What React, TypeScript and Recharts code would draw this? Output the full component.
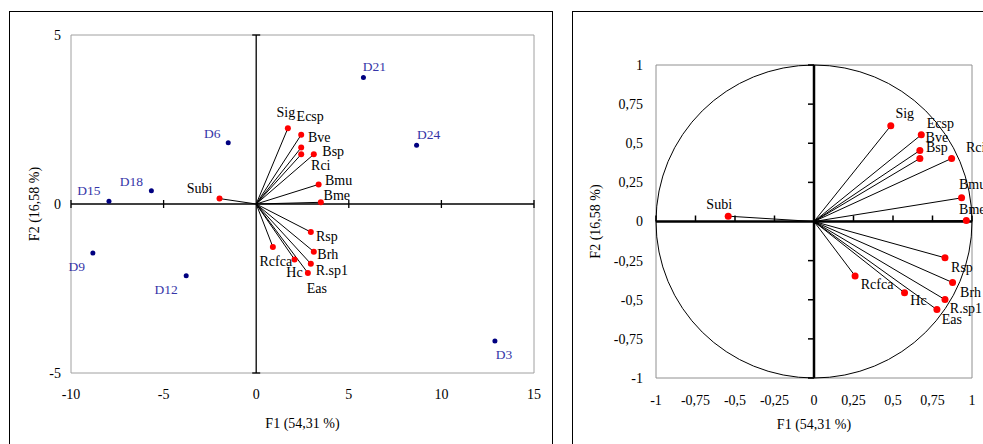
import { ScatterChart, Scatter, XAxis, YAxis, ReferenceLine, ReferenceArea, ReferenceDot } from 'recharts'

// variables (red) — coordinates on the biplot and on the correlation circle
const varNames = ['Sig', 'Ecsp', 'Bve', 'Bsp', 'Rci', 'Bmu', 'Bme', 'Subi', 'Rsp', 'Brh', 'R.sp1', 'Eas', 'Hc', 'Rcfca']
const varF1Biplot = [1.71, 2.43, 2.43, 2.43, 3.11, 3.37, 3.49, -1.98, 2.95, 3.11, 2.95, 2.79, 2.07, 0.9]
const varF2Biplot = [2.24, 2.05, 1.67, 1.47, 1.47, 0.58, 0.05, 0.16, -0.83, -1.41, -1.77, -2.04, -1.64, -1.27]
const varF1Circle = [0.486, 0.679, 0.67, 0.67, 0.871, 0.934, 0.964, -0.543, 0.829, 0.877, 0.829, 0.778, 0.573, 0.26]
const varF2Circle = [0.612, 0.554, 0.454, 0.403, 0.403, 0.151, 0.006, 0.034, -0.232, -0.39, -0.499, -0.563, -0.456, -0.348]

// sites (blue)
const siteNames = ['D21', 'D24', 'D6', 'D18', 'D15', 'D9', 'D12', 'D3']
const siteF1 = [5.79, 8.66, -1.51, -5.66, -7.95, -8.82, -3.78, 12.89]
const siteF2 = [3.74, 1.74, 1.81, 0.39, 0.08, -1.45, -2.12, -4.05]

// ticks
const biplotXTicks = [-10, -5, 0, 5, 10, 15]
const biplotYTicks = [-5, 0, 5]
const circleTicks = [-1, -0.75, -0.5, -0.25, 0, 0.25, 0.5, 0.75, 1]

const xTitle = 'F1 (54,31 %)'
const yTitle = 'F2 (16,58 %)'

// label offsets in px (label centre relative to its point)
const biplotVarOffset: Record<string, [number, number]> = {
  Sig: [-2, -16], Ecsp: [9, -18], Bve: [18, -10], Bsp: [32, -3], Rci: [7, 11], Bmu: [20, -4],
  Bme: [16, -7], Subi: [-20, -10], Rsp: [16, 4], Brh: [14, 3], 'R.sp1': [21, 7], Eas: [9, 16],
  Hc: [0, 13], Rcfca: [3, 15],
}
const siteOffset: Record<string, [number, number]> = {
  D21: [11, -11], D24: [12, -11], D6: [-16, -9], D18: [-20, -9], D15: [-20, -11],
  D9: [-16, 13], D12: [-20, 14], D3: [9, 14],
}
const circleVarOffset: Record<string, [number, number]> = {
  Sig: [14, -12], Ecsp: [19, -11], Bve: [17, -13], Bsp: [17, -11], Rci: [24, -11], Bmu: [11, -13],
  Bme: [6, -11], Subi: [-9, -12], Rsp: [17, 10], Brh: [18, 10], 'R.sp1': [21, 9], Eas: [15, 10],
  Hc: [14, 8], Rcfca: [22, 9],
}

const FONT = 'Liberation Serif, DejaVu Serif, Times New Roman, serif'

const biplotVars = varNames.map((name, i) => ({ name, x: varF1Biplot[i], y: varF2Biplot[i] }))
const circleVars = varNames.map((name, i) => ({ name, x: varF1Circle[i], y: varF2Circle[i] }))
const sites = siteNames.map((name, i) => ({ name, x: siteF1[i], y: siteF2[i] }))

const fmtComma = (v: number) => String(v).replace('.', ',')

function pointShape(offsets: Record<string, [number, number]>, dot: string, r: number, textFill: string, fontSize: number) {
  return (props: any) => {
    const { cx, cy, payload } = props
    const [dx, dy] = offsets[payload.name] ?? [0, 0]
    return (
      <g>
        <circle cx={cx} cy={cy} r={r} fill={dot} />
        <text x={cx + dx} y={cy + dy} textAnchor="middle" dominantBaseline="central"
          fontSize={fontSize} fill={textFill} style={{ fontFamily: FONT }}>{payload.name}</text>
      </g>
    )
  }
}

function xTitleAt(y: number) {
  return (props: any) => {
    const vb = props.viewBox
    return <text x={vb.x + vb.width / 2} y={y} textAnchor="middle" dominantBaseline="central"
      fontSize={14} fill="#000" style={{ fontFamily: FONT }}>{xTitle}</text>
  }
}
function yTitleAt(x: number) {
  return (props: any) => {
    const vb = props.viewBox
    const cy = vb.y + vb.height / 2
    return <text x={x} y={cy} transform={`rotate(-90 ${x} ${cy})`} textAnchor="middle" dominantBaseline="central"
      fontSize={14} fill="#000" style={{ fontFamily: FONT }}>{yTitle}</text>
  }
}

const tickStyle = { fontSize: 14, fill: '#000', style: { fontFamily: FONT } }

// left: biplot
const B_W = 560, B_H = 444
const bMargin = { top: 35, right: 26, bottom: 41, left: 31 }
const bPlotW = B_W - bMargin.left - bMargin.right - 40
const bPlotH = B_H - bMargin.top - bMargin.bottom - 30
const bTickY = 4 / (bPlotH / 10)
const bTickX = 4 / (bPlotW / 25)

function Biplot() {
  return (
    <ScatterChart width={B_W} height={B_H} margin={bMargin} style={{ fontFamily: FONT }}>
      <XAxis type="number" dataKey="x" domain={[-10, 15]} ticks={biplotXTicks} interval={0}
        axisLine={false} tickLine={false} tick={tickStyle} tickMargin={10} height={30} label={xTitleAt(423)} />
      <YAxis type="number" dataKey="y" domain={[-5, 5]} ticks={biplotYTicks} interval={0}
        axisLine={false} tickLine={false} tick={tickStyle} tickMargin={4} width={40} label={yTitleAt(34)} />
      <ReferenceArea x1={-10} x2={15} y1={-5} y2={5} fill="none" stroke="#a0a0a0" strokeWidth={1} />
      <ReferenceLine y={0} stroke="#000" strokeWidth={1.3} />
      <ReferenceLine x={0} stroke="#000" strokeWidth={1.3} />
      {biplotXTicks.filter((t) => t !== 0).map((t) => (
        <ReferenceLine key={'bx' + t} segment={[{ x: t, y: -bTickY }, { x: t, y: bTickY }]} stroke="#000" strokeWidth={1.3} />
      ))}
      {biplotYTicks.filter((t) => t !== 0).map((t) => (
        <ReferenceLine key={'by' + t} segment={[{ x: -bTickX, y: t }, { x: bTickX, y: t }]} stroke="#000" strokeWidth={1.3} />
      ))}
      {biplotVars.map((v) => (
        <ReferenceLine key={'bv' + v.name} segment={[{ x: 0, y: 0 }, { x: v.x, y: v.y }]} stroke="#000" strokeWidth={1} />
      ))}
      <Scatter data={sites} isAnimationActive={false} shape={pointShape(siteOffset, '#000080', 2.5, '#3535a8', 13.5)} />
      <Scatter data={biplotVars} isAnimationActive={false} shape={pointShape(biplotVarOffset, '#ff0000', 3, '#000', 14)} />
    </ScatterChart>
  )
}

// right: correlation circle
const C_W = 440, C_H = 444
const cMargin = { top: 65, right: 28, bottom: 36, left: 46 }
const cPlotW = C_W - cMargin.left - cMargin.right - 50
const cPlotH = C_H - cMargin.top - cMargin.bottom - 30
const cTickY = 6 / (cPlotH / 2)
const cTickX = 6 / (cPlotW / 2)

function CorrelationCircle() {
  return (
    <ScatterChart width={C_W} height={C_H} margin={cMargin} style={{ fontFamily: FONT }}>
      <XAxis type="number" dataKey="x" domain={[-1, 1]} ticks={circleTicks} interval={0} tickFormatter={fmtComma}
        axisLine={false} tickLine={false} tick={tickStyle} tickMargin={11} height={30} label={xTitleAt(424)} />
      <YAxis type="number" dataKey="y" domain={[-1, 1]} ticks={circleTicks} interval={0} tickFormatter={fmtComma}
        axisLine={false} tickLine={false} tick={tickStyle} tickMargin={7} width={50} label={yTitleAt(35)} />
      <ReferenceArea x1={-1} x2={1} y1={-1} y2={1} fill="none" stroke="#909090" strokeWidth={1} />
      <ReferenceDot x={0} y={0} r={cPlotW / 2}
        shape={(p: any) => <ellipse cx={p.cx} cy={p.cy} rx={cPlotW / 2} ry={cPlotH / 2} fill="none" stroke="#000" strokeWidth={1} />} />
      <ReferenceLine y={0} stroke="#000" strokeWidth={2.5} />
      <ReferenceLine x={0} stroke="#000" strokeWidth={2.5} />
      {circleTicks.filter((t) => t !== 0).map((t) => (
        <ReferenceLine key={'cx' + t} segment={[{ x: t, y: 0 }, { x: t, y: cTickY }]} stroke="#000" strokeWidth={1.5} />
      ))}
      {circleTicks.filter((t) => t !== 0).map((t) => (
        <ReferenceLine key={'cy' + t} segment={[{ x: -cTickX, y: t }, { x: 0, y: t }]} stroke="#000" strokeWidth={1.5} />
      ))}
      {circleVars.map((v) => (
        <ReferenceLine key={'cv' + v.name} segment={[{ x: 0, y: 0 }, { x: v.x, y: v.y }]} stroke="#000" strokeWidth={1} />
      ))}
      <Scatter data={circleVars} isAnimationActive={false} shape={pointShape(circleVarOffset, '#ff0000', 3.5, '#000', 14)} />
    </ScatterChart>
  )
}

export default function App() {
  return (
    <div style={{ position: 'fixed', left: 0, top: 0, width: 983, height: 444, overflow: 'hidden', background: '#fff', fontFamily: FONT }}>
      <div style={{ position: 'absolute', left: 9, top: 11, width: 544, height: 460, border: '1px solid #000', boxSizing: 'border-box' }} />
      <div style={{ position: 'absolute', left: 572, top: 11, width: 460, height: 460, border: '1px solid #000', boxSizing: 'border-box' }} />
      <div style={{ position: 'absolute', left: 0, top: 0 }}>
        <Biplot />
      </div>
      <div style={{ position: 'absolute', left: 560, top: 0 }}>
        <CorrelationCircle />
      </div>
    </div>
  )
}
